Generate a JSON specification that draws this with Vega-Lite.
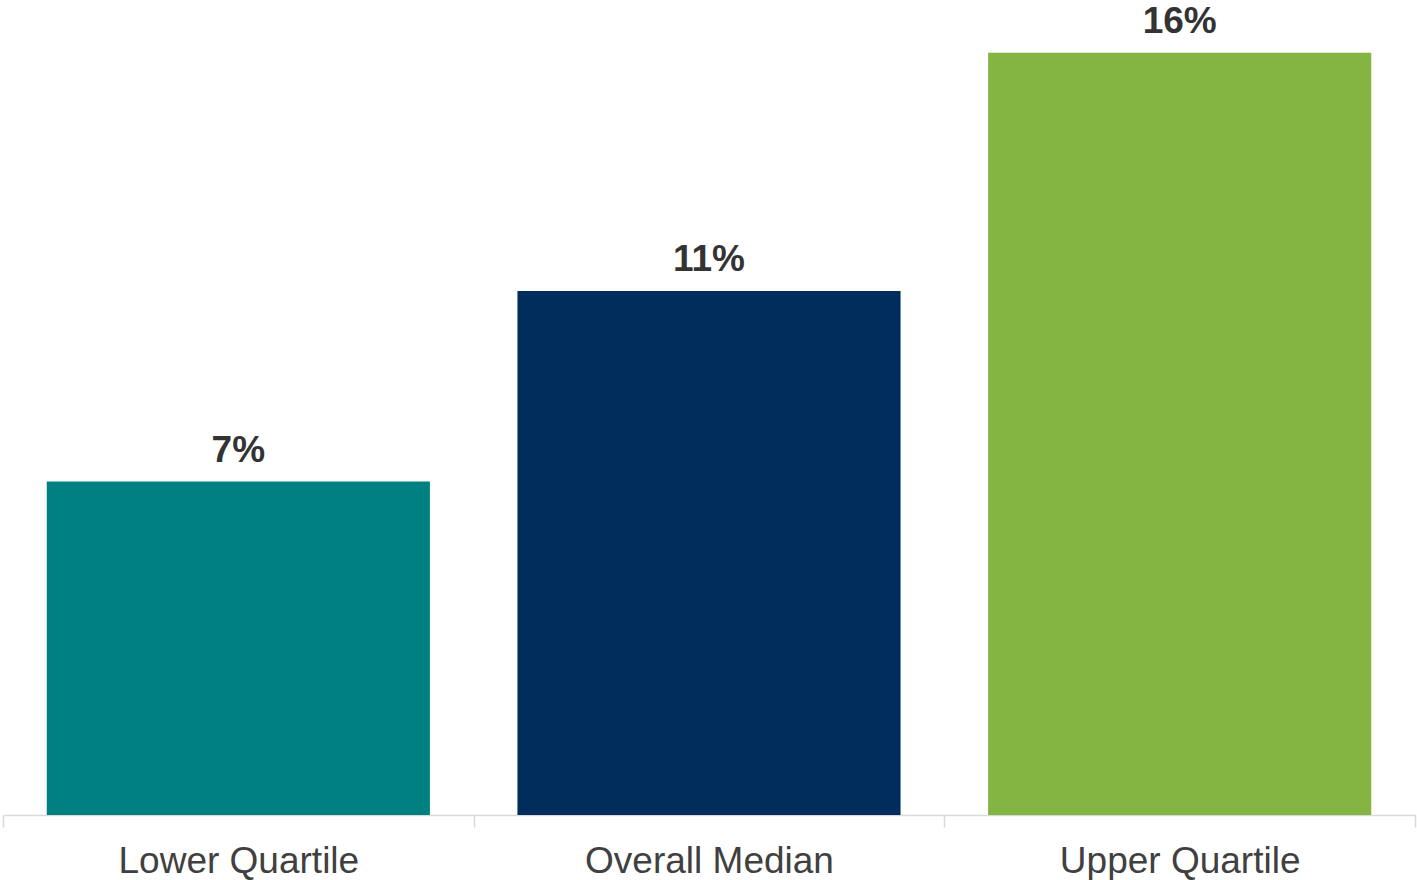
{
  "$schema": "https://vega.github.io/schema/vega-lite/v6.json",
  "width": 1412,
  "height": 815,
  "autosize": {"type": "none"},
  "padding": {"left": 3, "top": 0, "right": 2, "bottom": 65},
  "background": "white",
  "config": {"view": {"stroke": null}, "font": "Liberation Sans"},
  "data": {
    "values": [
      {"group": "Lower Quartile", "value": 7, "label": "7%"},
      {"group": "Overall Median", "value": 11, "label": "11%"},
      {"group": "Upper Quartile", "value": 16, "label": "16%"}
    ]
  },
  "encoding": {
    "x": {
      "field": "group",
      "type": "nominal",
      "sort": null,
      "scale": {"paddingInner": 0, "paddingOuter": 0},
      "axis": {
        "title": null,
        "labelAngle": 0,
        "labelLimit": 0,
        "labelFont": "Liberation Sans",
        "labelFontSize": 37,
        "labelColor": "#404040",
        "labelBaseline": "alphabetic",
        "labelPadding": 45,
        "tickBand": "extent",
        "tickSize": 12,
        "tickColor": "#d9d9d9",
        "tickWidth": 1.5,
        "domainColor": "#d9d9d9",
        "domainWidth": 1.5
      }
    },
    "y": {
      "field": "value",
      "type": "quantitative",
      "scale": {"domain": [0, 17.11], "nice": false},
      "axis": null
    }
  },
  "layer": [
    {
      "mark": {"type": "bar", "width": {"band": 0.814}},
      "encoding": {
        "color": {
          "field": "group",
          "type": "nominal",
          "scale": {
            "domain": ["Lower Quartile", "Overall Median", "Upper Quartile"],
            "range": ["#008080", "#002D5C", "#84B441"]
          },
          "legend": null
        }
      }
    },
    {
      "mark": {
        "type": "text",
        "font": "Liberation Sans",
        "fontSize": 37,
        "fontWeight": "bold",
        "color": "#333333",
        "baseline": "alphabetic",
        "dy": -20
      },
      "encoding": {"text": {"field": "label"}}
    }
  ]
}
